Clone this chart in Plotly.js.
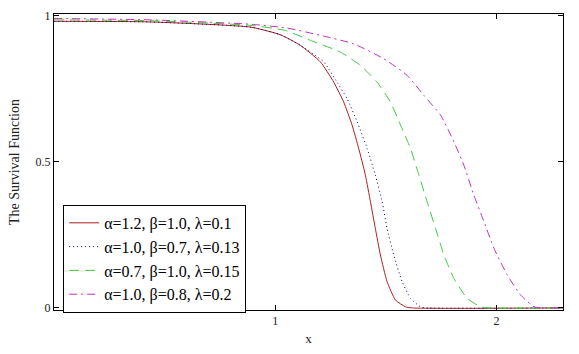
<!DOCTYPE html>
<html>
<head>
<meta charset="utf-8">
<script src="https://cdn.plot.ly/plotly-3.0.1.min.js"></script>
<style>
  html, body { margin: 0; padding: 0; background: #fff; }
  #wykres { width: 579px; height: 354px; }
</style>
</head>
<body>
<div id="wykres"></div>
<script>
// dane
const xCzerwona = [0, 0.43, 0.89, 1.023, 1.113, 1.204, 1.264, 1.309, 1.347, 1.377, 1.407, 1.43, 1.452, 1.475, 1.505, 1.543, 1.588, 1.62, 2.3];
const yCzerwona = [0.98, 0.978, 0.96, 0.934, 0.898, 0.841, 0.772, 0.704, 0.625, 0.545, 0.454, 0.363, 0.272, 0.181, 0.09, 0.027, 0.004, 0, 0];

const xNiebieska = [0, 0.43, 0.89, 1.023, 1.113, 1.219, 1.279, 1.324, 1.37, 1.415, 1.452, 1.483, 1.505, 1.535, 1.573, 1.611, 1.656, 1.69, 2.3];
const yNiebieska = [0.98, 0.978, 0.96, 0.934, 0.898, 0.841, 0.772, 0.716, 0.636, 0.545, 0.454, 0.363, 0.272, 0.181, 0.09, 0.033, 0.004, 0, 0];

const xZielona = [0, 0.43, 0.89, 1.045, 1.158, 1.294, 1.385, 1.46, 1.52, 1.566, 1.611, 1.649, 1.686, 1.724, 1.762, 1.807, 1.867, 1.928, 1.97, 2.3];
const yZielona = [0.985, 0.982, 0.966, 0.949, 0.915, 0.875, 0.829, 0.772, 0.704, 0.625, 0.545, 0.454, 0.363, 0.272, 0.181, 0.101, 0.033, 0.004, 0, 0];

const xFioletowa = [0, 0.43, 0.89, 1.053, 1.204, 1.354, 1.49, 1.596, 1.671, 1.747, 1.807, 1.852, 1.897, 1.943, 1.988, 2.048, 2.109, 2.169, 2.22, 2.3];
const yFioletowa = [0.99, 0.985, 0.97, 0.957, 0.932, 0.903, 0.852, 0.795, 0.727, 0.659, 0.568, 0.488, 0.386, 0.295, 0.204, 0.113, 0.044, 0.004, 0, 0];

const nazwy = [
  'α=1.2, β=1.0, λ=0.1',
  'α=1.0, β=0.7, λ=0.13',
  'α=0.7, β=1.0, λ=0.15',
  'α=1.0, β=0.8, λ=0.2'
];

const seria = (osX, osY, nazwa, kolor, kreska) => {
  return {
    x: osX,
    y: osY,
    mode: 'lines',
    name: nazwa,
    line: { color: kolor, width: 1, dash: kreska, shape: 'spline', smoothing: 0.5 }
  };
};

const data = [
  seria(xCzerwona, yCzerwona, nazwy[0], '#b01e1e', 'solid'),
  seria(xNiebieska, yNiebieska, nazwy[1], '#000080', '1px,3px'),
  seria(xZielona, yZielona, nazwy[2], '#3ccc3c', '10px,6px'),
  seria(xFioletowa, yFioletowa, nazwy[3], '#c030c0', '8px,4px,2px,4px')
];

const czcionka = { family: 'Liberation Serif, Times New Roman, serif', color: '#222' };

const layout = {
  width: 579,
  height: 354,
  margin: { l: 54, r: 16, t: 14, b: 44 },
  paper_bgcolor: '#fff',
  plot_bgcolor: '#fff',
  showlegend: true,
  font: czcionka,
  xaxis: {
    range: [0, 2.3],
    tickvals: [1, 2],
    ticktext: ['1', '2'],
    ticks: 'inside',
    ticklen: 5,
    tickcolor: '#000',
    showgrid: false,
    zeroline: false,
    showline: true,
    linecolor: '#000',
    linewidth: 1,
    mirror: 'ticks',
    tickfont: { size: 12, family: czcionka.family, color: '#222' },
    title: { text: 'x', font: { size: 13, family: czcionka.family, color: '#222' }, standoff: 6 }
  },
  yaxis: {
    range: [-0.007, 1.005],
    tickvals: [0, 0.5, 1],
    ticktext: ['0', '0.5', '1'],
    ticks: 'inside',
    ticklen: 5,
    tickcolor: '#000',
    showgrid: false,
    zeroline: false,
    showline: true,
    linecolor: '#000',
    linewidth: 1,
    mirror: 'ticks',
    tickfont: { size: 12, family: czcionka.family, color: '#222' },
    title: { text: 'The Survival Function', font: { size: 14, family: czcionka.family, color: '#222' }, standoff: 12 }
  },
  legend: {
    x: 0.018,
    y: 0.355,
    xanchor: 'left',
    yanchor: 'top',
    bgcolor: '#fff',
    bordercolor: '#000',
    borderwidth: 1,
    font: { size: 16, family: czcionka.family, color: '#000' },
    tracegroupgap: 0
  }
};

Plotly.newPlot('wykres', data, layout, { displayModeBar: false, staticPlot: true });
</script>
</body>
</html>
